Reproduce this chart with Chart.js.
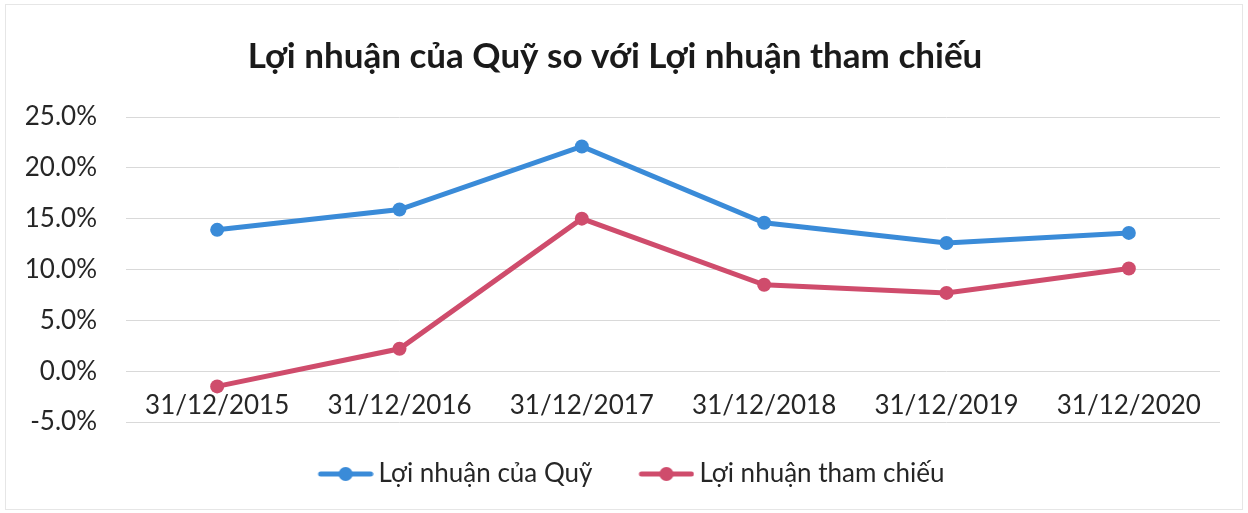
<!DOCTYPE html>
<html>
<head>
<meta charset="utf-8">
<script src="https://cdn.jsdelivr.net/npm/chart.js@4/dist/chart.umd.min.js"></script>
<style>
    html, body { margin: 0; padding: 0; background: #fff; }
    #wrap { position: relative; width: 1248px; height: 513px; }
    #frame { position: absolute; left: 5px; top: 4px; width: 1238px; height: 506px; border: 1px solid #e6e6e6; box-sizing: border-box; pointer-events: none; }
    canvas { display: block; }
</style>
</head>
<body>
<div id="wrap">
    <canvas id="loiNhuanChart" width="1248" height="513"></canvas>
    <div id="frame"></div>
</div>
<script>
const categories = ['31/12/2015', '31/12/2016', '31/12/2017', '31/12/2018', '31/12/2019', '31/12/2020'];
const fundReturns = [13.9, 15.9, 22.1, 14.6, 12.6, 13.6];
const benchmarkReturns = [-1.5, 2.2, 15.0, 8.5, 7.7, 10.1];
const yTicks = [-5, 0, 5, 10, 15, 20, 25];

const titleText = 'Lợi nhuận của Quỹ so với Lợi nhuận tham chiếu';
const fundLabel = 'Lợi nhuận của Quỹ';
const benchLabel = 'Lợi nhuận tham chiếu';

const BLUE = '#3a8bd8';
const RED = '#cf4c6c';
const FONT = 'Lato, "Open Sans", sans-serif';
const MARKER_GAP = 40; // margem vazia à esquerda do marcador, dá o espaço entre itens

// marcador da legenda: linha + bolinha
function legendMarker(color) {
    const c = document.createElement('canvas');
    c.width = 56 + MARKER_GAP;
    c.height = 16;
    const ctx = c.getContext('2d');
    ctx.strokeStyle = color;
    ctx.lineWidth = 5;
    ctx.lineCap = 'round';
    ctx.beginPath();
    ctx.moveTo(MARKER_GAP + 3, 8);
    ctx.lineTo(MARKER_GAP + 53, 8);
    ctx.stroke();
    ctx.fillStyle = color;
    ctx.beginPath();
    ctx.arc(MARKER_GAP + 28, 8, 7, 0, Math.PI * 2);
    ctx.fill();
    return c;
}

const ctx = document.getElementById('loiNhuanChart').getContext('2d');
new Chart(ctx, {
    type: 'line',
    data: {
        labels: categories,
        datasets: [{
            label: fundLabel,
            data: fundReturns,
            borderColor: BLUE,
            backgroundColor: BLUE,
            borderWidth: 5,
            pointRadius: 7,
            pointBorderWidth: 0,
            tension: 0
        }, {
            label: benchLabel,
            data: benchmarkReturns,
            borderColor: RED,
            backgroundColor: RED,
            borderWidth: 5,
            pointRadius: 7,
            pointBorderWidth: 0,
            tension: 0
        }]
    },
    options: {
        responsive: false,
        animation: false,
        layout: { padding: { left: 10, right: 28, top: 0, bottom: 16 } },
        scales: {
            x: {
                position: { y: 0 },
                offset: true,
                grid: { display: false, drawTicks: false },
                border: { display: false },
                ticks: { color: '#262626', font: { family: FONT, size: 26 }, padding: 19, maxRotation: 0, autoSkip: false }
            },
            // eixo vazio só para reservar o espaço entre o gráfico e a legenda
            spacer: {
                type: 'category',
                position: 'bottom',
                grid: { display: false, drawTicks: false },
                border: { display: false },
                ticks: { display: false },
                afterFit: scale => { scale.height = 25; }
            },
            y: {
                min: -5,
                max: 25,
                afterBuildTicks: scale => { scale.ticks = yTicks.map(v => ({ value: v })); },
                afterFit: scale => { scale.width = 116; },
                grid: { color: '#d9d9d9', lineWidth: 1, drawTicks: false },
                border: { display: false },
                ticks: {
                    color: '#262626',
                    font: { family: FONT, size: 26 },
                    padding: 29,
                    callback: v => v.toFixed(1) + '%'
                }
            }
        },
        plugins: {
            title: {
                display: true,
                text: titleText,
                color: '#1a1a1a',
                font: { family: FONT, size: 35, weight: 'bold' },
                padding: { top: 36, bottom: 39 }
            },
            legend: {
                position: 'bottom',
                labels: {
                    usePointStyle: true,
                    pointStyleWidth: 40 + MARKER_GAP,
                    boxHeight: 16,
                    color: '#262626',
                    font: { family: FONT, size: 26 },
                    padding: 14,
                    generateLabels: chart => chart.data.datasets.map((ds, i) => ({
                        text: ds.label,
                        fillStyle: ds.borderColor,
                        strokeStyle: ds.borderColor,
                        lineWidth: 0,
                        pointStyle: legendMarker(ds.borderColor),
                        datasetIndex: i,
                        hidden: false,
                        fontColor: '#262626'
                    }))
                }
            },
            tooltip: { enabled: false }
        }
    }
});
</script>
</body>
</html>
